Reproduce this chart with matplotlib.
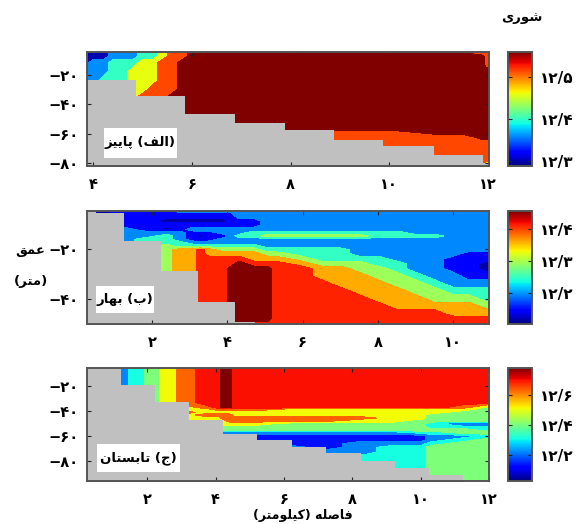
import numpy as np
import matplotlib
matplotlib.use("Agg")
import matplotlib.pyplot as plt
from matplotlib.colors import Normalize
from matplotlib.cm import ScalarMappable
from matplotlib.patches import Rectangle

# ---------- text shaping (matplotlib does not join Arabic letters) ----------
FORMS = {
    'ا': (0xFE8D, 0xFE8E), 'ر': (0xFEAD, 0xFEAE), 'ز': (0xFEAF, 0xFEB0), 'و': (0xFEED, 0xFEEE),
    'ب': (0xFE8F, 0xFE90, 0xFE91, 0xFE92), 'پ': (0xFB56, 0xFB57, 0xFB58, 0xFB59),
    'ت': (0xFE95, 0xFE96, 0xFE97, 0xFE98), 'ج': (0xFE9D, 0xFE9E, 0xFE9F, 0xFEA0),
    'س': (0xFEB1, 0xFEB2, 0xFEB3, 0xFEB4), 'ش': (0xFEB5, 0xFEB6, 0xFEB7, 0xFEB8),
    'ص': (0xFEB9, 0xFEBA, 0xFEBB, 0xFEBC), 'ع': (0xFEC9, 0xFECA, 0xFECB, 0xFECC),
    'ف': (0xFED1, 0xFED2, 0xFED3, 0xFED4), 'ق': (0xFED5, 0xFED6, 0xFED7, 0xFED8),
    'ک': (0xFB8E, 0xFB8F, 0xFB90, 0xFB91), 'ل': (0xFEDD, 0xFEDE, 0xFEDF, 0xFEE0),
    'م': (0xFEE1, 0xFEE2, 0xFEE3, 0xFEE4), 'ن': (0xFEE5, 0xFEE6, 0xFEE7, 0xFEE8),
    'ه': (0xFEE9, 0xFEEA, 0xFEEB, 0xFEEC), 'ی': (0xFBFC, 0xFBFD, 0xFBFE, 0xFBFF),
}
MIRROR = {'(': ')', ')': '('}


def fa(text):
    out = []
    for i, ch in enumerate(text):
        if ch not in FORMS:
            out.append(MIRROR.get(ch, ch))
            continue
        prev_joins = i > 0 and text[i - 1] in FORMS and len(FORMS[text[i - 1]]) == 4
        next_joins = i + 1 < len(text) and text[i + 1] in FORMS
        f = FORMS[ch]
        if len(f) == 2:
            out.append(chr(f[1] if prev_joins else f[0]))
        elif prev_joins and next_joins:
            out.append(chr(f[3]))
        elif prev_joins:
            out.append(chr(f[1]))
        elif next_joins:
            out.append(chr(f[2]))
        else:
            out.append(chr(f[0]))
    return ''.join(reversed(out))


# ---------- data: panel A (autumn) ----------
A_KM = [3.8, 4.0, 4.2, 4.4, 4.6, 4.8, 5.0, 5.2, 5.4, 5.6, 5.8, 6.0, 8.8, 10, 11, 11.5, 11.9, 11.95, 12.02]
A_DEPTH = [-4, -6, -7.5, -12, -18, -24, -30, -35, -45, -56, -59, -62, -66, -72, -78, -80, -82]
A_SAL = [12.30, 12.36, 12.40, 12.46, 12.515, 12.56]
A_BAND = [
    [0, 0, 0, 1, 1, 1, 2, 2, 3, 4, 4, 5, 5, 5, 5, 5, 4, 4, 4],
    [0, 0, 0, 1, 1, 1, 2, 2, 3, 4, 4, 5, 5, 5, 5, 5, 4, 4, 4],
    [0, 0, 0, 1, 1, 1, 2, 2, 3, 4, 4, 5, 5, 5, 5, 5, 5, 4, 4],
    [0, 1, 1, 2, 2, 2, 3, 3, 4, 4, 5, 5, 5, 5, 5, 5, 5, 4, 4],
    [1, 1, 1, 2, 2, 3, 3, 3, 4, 4, 5, 5, 5, 5, 5, 5, 5, 5, 5],
    [1, 1, 2, 2, 2, 3, 3, 3, 4, 4, 5, 5, 5, 5, 5, 5, 5, 5, 5],
    [2, 2, 2, 2, 2, 3, 3, 4, 4, 4, 5, 5, 5, 5, 5, 5, 5, 5, 5],
    [3, 3, 3, 3, 3, 3, 4, 4, 4, 5, 5, 5, 5, 5, 5, 5, 5, 5, 5],
    [5, 5, 5, 5, 5, 5, 5, 5, 5, 5, 5, 5, 5, 5, 5, 5, 5, 5, 5],
    [5, 5, 5, 5, 5, 5, 5, 5, 5, 5, 5, 5, 5, 5, 5, 5, 5, 5, 5],
    [4, 4, 4, 4, 4, 4, 4, 4, 4, 4, 4, 4, 4, 4, 5, 5, 5, 5, 5],
    [4, 4, 4, 4, 4, 4, 4, 4, 4, 4, 4, 4, 4, 4, 4, 4, 5, 5, 5],
    [4, 4, 4, 4, 4, 4, 4, 4, 4, 4, 4, 4, 4, 4, 4, 4, 4, 4, 4],
    [4, 4, 4, 4, 4, 4, 4, 4, 4, 4, 4, 4, 4, 4, 4, 4, 4, 4, 4],
    [4, 4, 4, 4, 4, 4, 4, 4, 4, 4, 4, 4, 4, 4, 4, 4, 4, 4, 4],
    [4, 4, 4, 4, 4, 4, 4, 4, 4, 4, 4, 4, 4, 4, 4, 4, 4, 3, 3],
    [4, 4, 4, 4, 4, 4, 4, 4, 4, 4, 4, 4, 4, 4, 4, 4, 4, 3, 3],
]
A_BED_KM = [3.87, 4.87, 5.86, 6.87, 7.88, 8.88, 9.87, 10.9, 11.9, 12.02]
A_BED_DEPTH = [-23.4, -34.7, -46.4, -52.7, -57.7, -64, -68.5, -74.6, -80]

# ---------- data: panel B (spring), one list per station ----------
B_KM = [0.5, 1.25, 1.8, 2.4, 2.7, 3.1, 3.28, 3.5, 3.9, 4.1, 4.3, 4.7, 5.07, 5.27,
        6.0, 6.5, 7, 7.5, 8, 8.5, 9, 9.5, 10, 10.4, 10.95]
B_DEPTH = [-4, -6.9, -8.9, -10.5, -12.3, -13.6, -14.9, -16.3, -17.6, -18.9, -20.5, -22,
           -24, -26, -28, -30.9, -34, -36.9, -40, -42.9, -46, -48, -50.4]
B_SAL = [12.115, 12.143, 12.195, 12.248, 12.294, 12.36, 12.41, 12.455]
B_BAND = [
    [0, 0, 1, 1, 1, 1, 1, 1, 1, 1, 1, 1, 1, 1, 1, 1, 1, 1, 1, 1, 1, 1, 1],
    [1, 1, 1, 1, 2, 2, 2, 2, 2, 2, 2, 2, 2, 2, 2, 2, 2, 2, 2, 2, 2, 2, 2],
    [1, 1, 1, 1, 1, 2, 2, 3, 3, 3, 3, 3, 3, 3, 3, 3, 3, 3, 3, 3, 3, 3, 3],
    [1, 1, 0, 1, 0, 2, 3, 3, 3, 4, 4, 4, 4, 4, 4, 4, 4, 4, 4, 4, 4, 4, 4],
    [2, 1, 0, 1, 1, 2, 2, 2, 3, 3, 5, 5, 5, 5, 5, 5, 5, 5, 5, 5, 5, 5, 5],
    [2, 1, 0, 1, 2, 1, 1, 1, 2, 3, 5, 5, 5, 5, 5, 5, 5, 5, 5, 5, 5, 5, 5],
    [2, 1, 0, 1, 2, 1, 0, 1, 2, 3, 6, 6, 6, 6, 6, 6, 6, 6, 6, 6, 6, 6, 6],
    [2, 1, 0, 1, 2, 1, 1, 1, 2, 3, 5, 5, 6, 6, 6, 6, 6, 6, 6, 6, 6, 6, 6],
    [2, 1, 0, 1, 2, 2, 1, 2, 2, 3, 4, 5, 6, 6, 6, 6, 6, 6, 6, 6, 6, 6, 6],
    [2, 1, 1, 1, 2, 2, 2, 2, 2, 3, 4, 5, 6, 6, 7, 7, 7, 7, 7, 7, 7, 7, 7],
    [2, 2, 1, 1, 2, 2, 3, 2, 2, 3, 4, 5, 6, 7, 7, 7, 7, 7, 7, 7, 7, 7, 7],
    [2, 2, 1, 1, 2, 3, 3, 2, 2, 3, 4, 5, 5, 6, 7, 7, 7, 7, 7, 7, 7, 7, 6],
    [2, 2, 2, 2, 2, 3, 4, 2, 2, 2, 3, 4, 5, 6, 7, 7, 7, 7, 7, 7, 7, 7, 6],
    [2, 2, 2, 2, 2, 3, 4, 2, 2, 2, 3, 4, 5, 6, 6, 6, 6, 6, 6, 6, 6, 6, 6],
    [2, 2, 2, 2, 2, 3, 4, 2, 2, 2, 3, 3, 4, 5, 6, 6, 6, 6, 6, 6, 6, 6, 6],
    [2, 2, 2, 2, 2, 3, 4, 2, 2, 2, 3, 3, 3, 4, 5, 5, 6, 6, 6, 6, 6, 6, 6],
    [2, 2, 2, 2, 2, 3, 4, 2, 2, 2, 3, 3, 3, 4, 5, 5, 5, 6, 6, 6, 6, 6, 6],
    [2, 2, 2, 2, 2, 3, 4, 2, 2, 2, 2, 2, 3, 4, 4, 5, 5, 5, 6, 6, 6, 6, 6],
    [2, 2, 2, 2, 2, 3, 3, 2, 2, 2, 2, 2, 3, 3, 4, 4, 5, 5, 5, 6, 6, 6, 6],
    [2, 2, 2, 2, 2, 3, 3, 2, 2, 2, 2, 2, 2, 3, 3, 4, 4, 5, 5, 5, 6, 6, 6],
    [2, 2, 2, 2, 2, 2, 3, 2, 2, 2, 2, 2, 2, 2, 2, 3, 4, 4, 5, 5, 6, 6, 6],
    [2, 2, 2, 2, 2, 2, 3, 2, 2, 2, 2, 2, 2, 2, 2, 2, 3, 4, 4, 5, 6, 6, 6],
    [2, 2, 2, 2, 2, 2, 2, 2, 2, 2, 2, 2, 1, 1, 1, 2, 2, 3, 4, 5, 5, 6, 6],
    [2, 2, 2, 2, 2, 2, 2, 2, 2, 2, 2, 1, 1, 1, 1, 1, 2, 3, 4, 5, 5, 6, 6],
    [2, 2, 2, 2, 2, 2, 2, 2, 2, 2, 2, 1, 1, 0, 0, 1, 2, 3, 3, 4, 5, 6, 6],
]
B_BED_KM = [0.27, 0.51, 1.25, 2.24, 3.23, 4.21, 4.73, 10.95]
B_BED_DEPTH = [-4.0, -5.6, -17, -29, -41.3, -49.3, -60]

# ---------- data: panel C (summer) ----------
C_KM = [1.2, 1.7, 2.1, 2.6, 3.1, 3.7, 4.1, 4.2, 4.4, 4.55, 5.2, 6.2, 7.2, 8.2, 9.2, 10.0, 10.3, 11.2, 12.0]
C_DEPTH = [-4, -18, -28, -33, -37, -38.5, -41, -43, -45.5, -47.5, -50, -52.5, -55, -57, -60, -63,
           -66, -69, -73, -78, -86, -97]
C_SAL = [12.13, 12.22, 12.31, 12.405, 12.51, 12.63, 12.70, 12.78]
C_BAND = [
    [1, 2, 3, 4, 5, 6, 6, 7, 7, 6, 6, 6, 6, 6, 6, 6, 6, 6, 6],
    [1, 2, 3, 4, 5, 6, 6, 7, 7, 6, 6, 6, 6, 6, 6, 6, 6, 6, 6],
    [1, 2, 3, 4, 5, 6, 6, 7, 7, 6, 6, 6, 6, 6, 6, 6, 6, 6, 6],
    [2, 2, 3, 4, 5, 6, 6, 7, 7, 6, 6, 6, 6, 6, 6, 6, 6, 6, 6],
    [3, 3, 4, 4, 4, 5, 6, 7, 7, 6, 6, 6, 6, 6, 6, 6, 6, 5, 3],
    [4, 4, 4, 4, 4, 4, 5, 5, 5, 5, 5, 4, 4, 4, 4, 4, 4, 4, 3],
    [4, 4, 4, 4, 5, 4, 4, 4, 4, 4, 4, 4, 4, 4, 4, 4, 4, 3, 3],
    [4, 4, 4, 4, 4, 5, 5, 5, 5, 4, 4, 4, 4, 4, 4, 4, 3, 3, 3],
    [4, 4, 4, 4, 4, 4, 4, 5, 5, 5, 5, 5, 5, 5, 4, 4, 3, 3, 3],
    [4, 4, 4, 4, 4, 4, 4, 4, 5, 5, 5, 5, 5, 4, 4, 3, 3, 3, 3],
    [4, 4, 4, 4, 4, 3, 3, 4, 4, 4, 4, 3, 3, 3, 3, 3, 2, 0, 0],
    [3, 3, 3, 3, 3, 3, 3, 3, 3, 3, 3, 3, 3, 3, 3, 3, 2, 2, 2],
    [3, 3, 3, 3, 3, 3, 3, 3, 3, 3, 3, 3, 3, 3, 3, 3, 3, 3, 2],
    [3, 3, 3, 3, 3, 3, 1, 1, 1, 1, 1, 1, 1, 1, 1, 2, 2, 3, 3],
    [1, 1, 1, 1, 1, 1, 1, 1, 1, 1, 0, 0, 0, 0, 0, 0, 1, 1, 2],
    [0, 0, 0, 0, 0, 0, 0, 0, 0, 0, 0, 0, 0, 0, 0, 0, 1, 2, 3],
    [0, 0, 0, 0, 0, 0, 0, 0, 0, 0, 0, 0, 0, 1, 1, 1, 2, 3, 3],
    [1, 1, 1, 1, 1, 1, 1, 1, 1, 1, 1, 1, 0, 1, 2, 2, 3, 3, 3],
    [1, 1, 1, 1, 1, 1, 1, 1, 1, 1, 1, 1, 1, 1, 2, 2, 3, 3, 3],
    [2, 2, 2, 2, 2, 2, 2, 2, 2, 2, 2, 2, 2, 2, 2, 2, 3, 3, 3],
    [2, 2, 2, 2, 2, 2, 2, 2, 2, 2, 2, 2, 2, 2, 2, 2, 3, 3, 3],
    [2, 2, 2, 2, 2, 2, 2, 2, 2, 2, 2, 2, 2, 2, 2, 2, 3, 3, 3],
]
C_BED_KM = [0.23, 1.23, 2.22, 3.21, 4.22, 5.22, 6.23, 7.24, 8.24, 9.24, 10.23, 11.24, 12.0]
C_BED_DEPTH = [-4.0, -18.7, -32.8, -47.2, -57.9, -63.2, -69, -73.9, -80, -85.9, -91.3, -99]

PANELS = [
    dict(km=A_KM, depth=A_DEPTH, sal=A_SAL, band=np.array(A_BAND), bed_km=A_BED_KM, bed=A_BED_DEPTH,
         xlim=(3.87, 12.02), ylim=(-81.8, -4.6), clim=(12.288, 12.56), box=(87, 52, 489, 166),
         xt=[4, 6, 8, 10, 12], yt=[-20, -40, -60, -80], ct=[12.3, 12.4, 12.5],
         tag='(الف) پاییز', tagbox=(104, 128, 177, 158)),
    dict(km=B_KM, depth=B_DEPTH, sal=B_SAL, band=np.array(B_BAND).T, bed_km=B_BED_KM, bed=B_BED_DEPTH,
         xlim=(0.27, 10.95), ylim=(-50.2, -4.9), clim=(12.104, 12.455), box=(87, 211, 489, 324),
         xt=[2, 4, 6, 8, 10], yt=[-20, -40], ct=[12.2, 12.3, 12.4],
         tag='(ب) بهار', tagbox=(96, 286, 154, 313)),
    dict(km=C_KM, depth=C_DEPTH, sal=C_SAL, band=np.array(C_BAND), bed_km=C_BED_KM, bed=C_BED_DEPTH,
         xlim=(0.23, 12.0), ylim=(-96, -5.3), clim=(12.027, 12.78), box=(87, 368, 489, 481),
         xt=[2, 4, 6, 8, 10, 12], yt=[-20, -40, -60, -80], ct=[12.2, 12.4, 12.6],
         tag='(ج) تابستان', tagbox=(97, 444, 180, 472)),
]

W, H = 576, 524
BOLD = dict(family='DejaVu Sans', fontweight='bold')
GREY = '#c0c0c0'
FRAME = '#555555'
DIGITS = str.maketrans('0123456789.', '۰۱۲۳۴۵۶۷۸۹/')


def fa_num(v):
    s = f'{abs(v):g}'.translate(DIGITS)
    return ('\u2212' + s) if v < 0 else s


fig = plt.figure(figsize=(W / 100, H / 100), dpi=100)
fig.patch.set_facecolor('white')

for p in PANELS:
    x0, y0, x1, y1 = p['box']
    ax = fig.add_axes([x0 / W, 1 - y1 / H, (x1 - x0) / W, (y1 - y0) / H])
    norm = Normalize(*p['clim'])
    sal = np.array(p['sal'])
    mids = (sal[:-1] + sal[1:]) / 2
    levels = np.concatenate([[sal[0] - 1], mids, [sal[-1] + 1]])
    colors = [plt.cm.jet(norm(v)) for v in sal]
    ax.set_facecolor(GREY)
    ax.contourf(p['km'], p['depth'], sal[p['band']], levels=levels, colors=colors)
    ax.fill_between(p['bed_km'], p['bed'] + [p['bed'][-1]], -120, step='post', color=GREY, lw=0)
    ax.set_xlim(*p['xlim'])
    ax.set_ylim(*p['ylim'])
    ax.set_xticks(p['xt'], [fa_num(v) for v in p['xt']], fontsize=10.5, **BOLD)
    ax.set_yticks(p['yt'], [fa_num(v) for v in p['yt']], fontsize=10.5, **BOLD)
    ax.tick_params(direction='in', top=True, right=True, length=3, width=0.8, color='#222222')
    ax.tick_params(axis='x', pad=8)
    ax.tick_params(axis='y', pad=6)
    for s in ax.spines.values():
        s.set_color(FRAME)
        s.set_linewidth(1.4)

    bx0, by0, bx1, by1 = p['tagbox']
    fig.add_artist(Rectangle((bx0 / W, 1 - by1 / H), (bx1 - bx0) / W, (by1 - by0) / H,
                             transform=fig.transFigure, facecolor='white', edgecolor='none', zorder=4))
    fig.text((bx0 + bx1) / 2 / W, 1 - (by0 + by1) / 2 / H, fa(p['tag']), ha='center', va='center',
             fontsize=9.5, zorder=5, **BOLD)

    cax = fig.add_axes([508 / W, 1 - y1 / H, 24 / W, (y1 - y0) / H])
    cb = fig.colorbar(ScalarMappable(norm=norm, cmap='jet'), cax=cax)
    cb.set_ticks(p['ct'], labels=[fa_num(v) for v in p['ct']])
    cax.tick_params(direction='in', left=True, right=True, length=3, width=0.8, pad=6, color='#222222')
    for lab in cax.get_yticklabels():
        lab.set_fontsize(11)
        lab.set_family('DejaVu Sans')
        lab.set_fontweight('bold')
    cb.outline.set_edgecolor(FRAME)
    cb.outline.set_linewidth(1.4)

fig.text(522 / W, 1 - 18 / H, fa('شوری'), ha='center', va='center', fontsize=9.5, **BOLD)
fig.text(30 / W, 1 - 250 / H, fa('عمق'), ha='center', va='center', fontsize=9.5, **BOLD)
fig.text(31 / W, 1 - 282 / H, fa('(متر)'), ha='center', va='center', fontsize=9.5, **BOLD)
fig.text(303 / W, 1 - 515 / H, fa('فاصله (کیلومتر)'), ha='center', va='center', fontsize=9, **BOLD)

fig.savefig('out.png', dpi=100)
